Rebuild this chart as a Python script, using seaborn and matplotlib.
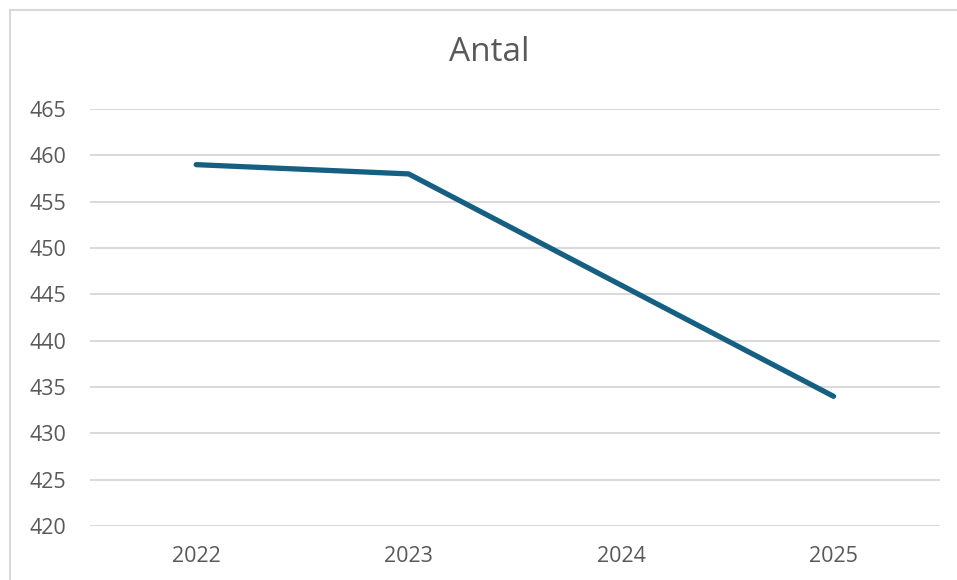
import pandas as pd
import matplotlib.pyplot as plt
import seaborn as sns
from matplotlib.patches import Rectangle


# Data
years = ["2022", "2023", "2024", "2025"]
antal = [459, 458, 446, 434]
y_ticks = [420, 425, 430, 435, 440, 445, 450, 455, 460, 465]

df = pd.DataFrame({"year": years, "antal": antal})

sns.set_style("white")
plt.rcParams["font.family"] = ["Open Sans", "DejaVu Sans"]

fig = plt.figure(figsize=(9.57, 5.80), dpi=100)
ax = fig.add_axes([0.094, 0.093, 0.888, 0.719])

sns.lineplot(data=df, x="year", y="antal", ax=ax, color="#156082",
             linewidth=3.8, solid_capstyle="round", solid_joinstyle="round", zorder=3)

ax.set_xlim(-0.5, len(years) - 0.5)
ax.set_ylim(420, 465)
ax.set_yticks(y_ticks)
ax.yaxis.grid(True, color="#D9D9D9", linewidth=1.4)
ax.set_axisbelow(True)
for side in ["top", "right", "left", "bottom"]:
    ax.spines[side].set_visible(False)
ax.tick_params(axis="both", length=0, labelsize=15.5, labelcolor="#595959")
ax.tick_params(axis="y", pad=17)
ax.tick_params(axis="x", pad=14)
ax.set_xlabel("")
ax.set_ylabel("")

fig.text(0.511, 0.909, "Antal", ha="center", va="center", fontsize=24, color="#595959")

# chart area border
fig.patches.append(Rectangle((10 / 957, -0.1), 1.2, 1 - 10 / 580 + 0.1, transform=fig.transFigure,
                             fill=False, edgecolor="#D9D9D9", linewidth=1.5))

plt.savefig("out.png", dpi=100)
plt.close()
